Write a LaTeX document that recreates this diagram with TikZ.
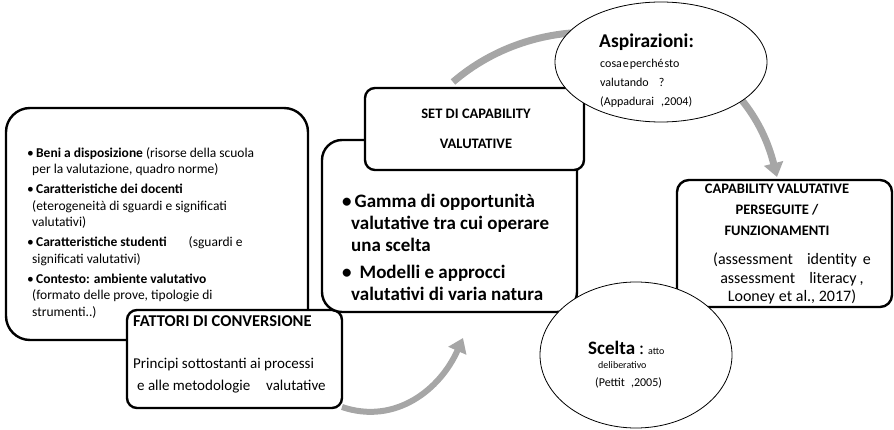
\documentclass[tikz,border=0pt]{standalone}
\usepackage{fontspec}
\setmainfont{Carlito}
\usetikzlibrary{shapes.geometric,arrows.meta}
\definecolor{arrowgray}{HTML}{A6A6A6}
\begin{document}
\begin{tikzpicture}[x=1pt,y=-1pt,
  box/.style={draw=black, line width=2.4pt, fill=white, rectangle, inner sep=0pt},
  bubble/.style={draw=black, line width=0.8pt, fill=white, ellipse, inner sep=0pt},
  flow/.style={draw=arrowgray, line width=7pt, -{Triangle[width=19pt,length=14pt]}},
  txt/.style={inner sep=0pt, align=left, anchor=north west},
  ctxt/.style={inner sep=0pt, align=center, anchor=north}
]
\useasboundingbox (0,0) rectangle (894,430);

% free ends of the two grey flow arrows
\coordinate (topstart) at (453,82);
\coordinate (toptip) at (777,177);
\coordinate (botstart) at (342,407);
\coordinate (bottip) at (463,338);

% grey circular flow (drawn first so the shapes sit on top)
\draw[flow] (topstart) .. controls (560,-10) and (740,30) .. (toptip);
\draw[flow, line width=6pt] (botstart) .. controls (395,425) and (440,390) .. (bottip);

% boxes
\node[box, rounded corners=24pt, minimum width=302pt, minimum height=232pt] (resources) at (157,224) {};
\node[box, rounded corners=10pt, minimum width=215pt, minimum height=98pt] (conversion) at (234.5,359) {};
\node[box, rounded corners=20pt, minimum width=255pt, minimum height=172pt] (capset) at (449.5,226) {};
\node[box, rounded corners=10pt, minimum width=219pt, minimum height=82pt] (capsethead) at (474.5,129) {};
\node[box, rounded corners=12pt, minimum width=215pt, minimum height=127pt] (achieved) at (784.5,243.5) {};

% ellipses
\node[bubble, minimum width=212pt, minimum height=120pt] (aspiration) at (661,62) {};
\node[bubble, minimum width=192pt, minimum height=146pt] (choice) at (636,355) {};

% conversion factors list
\node[txt, font=\fontsize{13.5}{16.5}\selectfont] (factlist) at (27,147) {%
\textbullet\,\textbf{Beni a disposizione} (risorse della scuola\\
\hspace*{5pt}per la valutazione, quadro norme)\\[3.5pt]
\textbullet\,\textbf{Caratteristiche dei docenti}\\
\hspace*{5pt}(eterogeneità di sguardi e significati\\
\hspace*{5pt}valutativi)\\[3.5pt]
\textbullet\,\textbf{Caratteristiche studenti}\hspace{22pt}(sguardi e\\
\hspace*{5pt}significati valutativi)\\[3.5pt]
\textbullet\,\textbf{Contesto: ambiente valutativo}\\
\hspace*{5pt}(formato delle prove, tipologie di\\
\hspace*{5pt}strumenti..)};

\node[txt, font=\bfseries\fontsize{16.5}{18}\selectfont] (convtitle) at (133,315) {FATTORI DI CONVERSIONE};
\node[txt, font=\fontsize{15}{22}\selectfont] (convnote) at (133,358) {%
Principi sottostanti ai processi\\
\hspace*{4pt}e alle metodologie\hspace{16pt}valutative};

% capability set
\node[ctxt, font=\bfseries\fontsize{14.5}{30}\selectfont] (settitle) at (476,109) {SET DI CAPABILITY\\VALUTATIVE};
\node[txt, font=\bfseries\fontsize{19}{22}\selectfont] (setlist) at (342,194) {%
\textbullet\hspace{3pt}Gamma di opportunità\\
\hspace*{9pt}valutative tra cui operare\\
\hspace*{9pt}una scelta\\[5pt]
\textbullet\hspace{8pt}Modelli e approcci\\
\hspace*{9pt}valutativi di varia natura};

% achieved capabilities
\node[ctxt, font=\bfseries\fontsize{14.5}{21}\selectfont] (achtitle) at (777,184) {CAPABILITY VALUTATIVE\\PERSEGUITE /\\FUNZIONAMENTI};
\node[ctxt, font=\fontsize{16}{18.5}\selectfont] (achnote) at (792,253) {%
(assessment\hspace{14pt}identity\hspace{6pt}e\\
assessment\hspace{14pt}literacy\hspace{3pt},\\
Looney\hspace{4pt}et al., 2017)};

% aspirations
\node[txt, font=\bfseries\fontsize{19.5}{22}\selectfont] (asptitle) at (599,34) {Aspirazioni:};
\node[txt, font=\fontsize{12}{19}\selectfont] (aspnote) at (600,59) {%
cosa\hspace{1pt}e\hspace{1pt}perché\hspace{1pt}sto\\
valutando\hspace{10pt}?\\
(Appadurai\hspace{7pt},2004)};

% choice
\node[anchor=base west, inner sep=0pt] (choicetitle) at (588,354) {\fontsize{19}{22}\selectfont\textbf{Scelta}\hspace{4pt}:\hspace{4pt}\fontsize{10}{12}\selectfont atto};
\node[anchor=base west, inner sep=0pt, font=\fontsize{10}{12}\selectfont] (choicedelib) at (598,368) {deliberativo};
\node[anchor=base west, inner sep=0pt, font=\fontsize{12}{13}\selectfont] (choiceref) at (595,386) {(Pettit\hspace{6pt},2005)};
\end{tikzpicture}
\end{document}
